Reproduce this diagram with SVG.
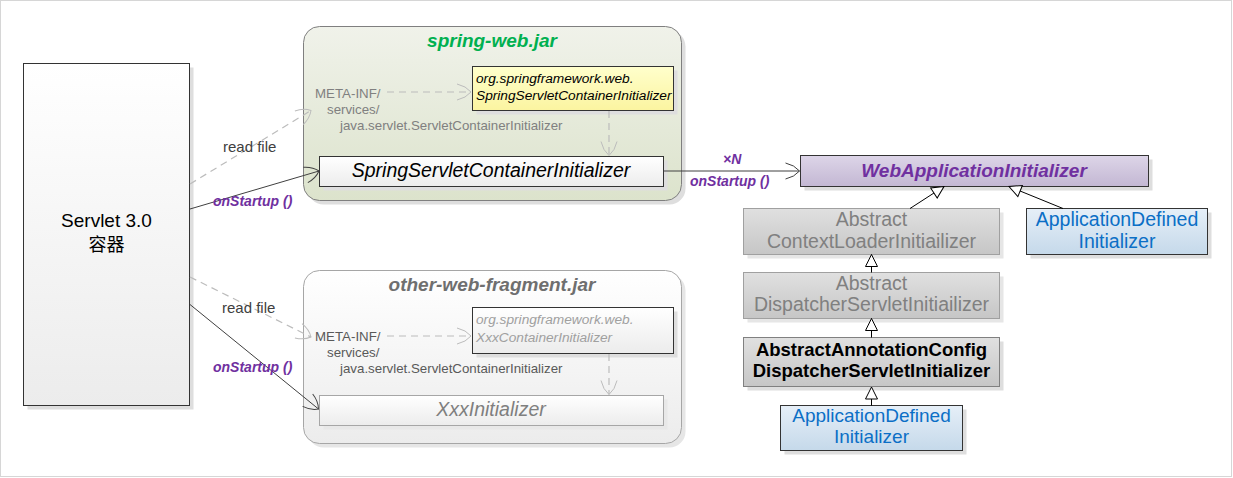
<svg xmlns="http://www.w3.org/2000/svg" width="1233" height="478" viewBox="0 0 1233 478">
<defs>
<linearGradient id="gWhite" x1="0" y1="0" x2="0" y2="1"><stop offset="0" stop-color="#ffffff"/><stop offset="1" stop-color="#ececec"/></linearGradient>
<linearGradient id="gGreen" x1="0" y1="0" x2="0" y2="1"><stop offset="0" stop-color="#f0f2ea"/><stop offset="1" stop-color="#dce3cc"/></linearGradient>
<linearGradient id="gYellow" x1="0" y1="0" x2="0" y2="1"><stop offset="0" stop-color="#ffffcc"/><stop offset="1" stop-color="#fbf4a0"/></linearGradient>
<linearGradient id="gPurple" x1="0" y1="0" x2="0" y2="1"><stop offset="0" stop-color="#ddd5e8"/><stop offset="1" stop-color="#c3b7d3"/></linearGradient>
<linearGradient id="gGray" x1="0" y1="0" x2="0" y2="1"><stop offset="0" stop-color="#e0e0e0"/><stop offset="1" stop-color="#c6c6c6"/></linearGradient>
<linearGradient id="gBlue" x1="0" y1="0" x2="0" y2="1"><stop offset="0" stop-color="#e6eff8"/><stop offset="1" stop-color="#c5d9ea"/></linearGradient>
<marker id="openDark" markerUnits="userSpaceOnUse" markerWidth="20" markerHeight="20" viewBox="-15 -10 17 20" refX="0" refY="0" orient="auto">
<path d="M-14,-8 Q-5,-6 0,0 Q-5,6 -14,8" fill="none" stroke="#404040" stroke-width="1"/>
</marker>
<marker id="openGray" markerUnits="userSpaceOnUse" markerWidth="20" markerHeight="20" viewBox="-15 -10 17 20" refX="0" refY="0" orient="auto">
<path d="M-14,-8 Q-5,-6 0,0 Q-5,6 -14,8" fill="none" stroke="#bcbcbc" stroke-width="1"/>
</marker>
<marker id="tri" markerUnits="userSpaceOnUse" markerWidth="16" markerHeight="16" viewBox="-14 -8 16 16" refX="0" refY="0" orient="auto">
<path d="M0,0 L-12,-6 L-12,6 Z" fill="#ffffff" stroke="#000000" stroke-width="1"/>
</marker>
</defs>
<style>
text{font-family:"Liberation Sans",Arial,"Noto Sans CJK SC",sans-serif;}
.sh{fill:#dedede;}
.box{stroke:#333333;stroke-width:1;}
.lbl{font-size:15px;fill:#404040;}
.call{font-size:14px;font-weight:bold;font-style:italic;fill:#7030a0;}
.meta{font-size:13.3px;fill:#808080;}
.big{font-size:19.5px;text-anchor:middle;}
.dash{fill:none;stroke:#bcbcbc;stroke-width:1.2;stroke-dasharray:7,5;}
.solid{fill:none;stroke:#404040;stroke-width:1;}
.gen{fill:none;stroke:#000000;stroke-width:1;}
</style>
<rect x="0.5" y="0.5" width="1231" height="476" fill="#ffffff" stroke="#d6d6d6"/>

<g id="servlet">
<rect class="sh" x="27.5" y="67.5" width="166" height="342"/>
<rect class="box" x="23.5" y="63.5" width="166" height="342" fill="url(#gWhite)"/>
<text class="big" x="106.5" y="227" style="font-size:19px" fill="#000">Servlet 3.0</text>
<text class="big" x="106.5" y="251" style="font-size:18px;font-family:'Noto Sans CJK SC',sans-serif" fill="#000">容器</text>
</g>

<g id="spring-web-jar">
<rect class="sh" x="307.5" y="30.5" width="378" height="174" rx="16"/>
<rect x="303.5" y="26.5" width="378" height="174" rx="16" fill="url(#gGreen)" stroke="#7f7f7f"/>
<text x="492" y="47" text-anchor="middle" style="font-size:19px;font-weight:bold;font-style:italic" fill="#00b050">spring-web.jar</text>
<text class="meta" x="315" y="98">META-INF/</text>
<text class="meta" x="327" y="114">services/</text>
<text class="meta" x="340" y="130">java.servlet.ServletContainerInitializer</text>
</g>

<g id="spring-sci-file">
<rect class="sh" x="476.5" y="70.5" width="201" height="44"/>
<rect class="box" x="472.5" y="66.5" width="201" height="44" fill="url(#gYellow)"/>
<text x="476" y="83" style="font-size:13.7px;font-style:italic" fill="#000">org.springframework.web.</text>
<text x="476" y="100" style="font-size:13.7px;font-style:italic" fill="#000">SpringServletContainerInitializer</text>
</g>

<g id="spring-sci">
<rect class="sh" x="323.5" y="160.5" width="344" height="30"/>
<rect class="box" x="319.5" y="156.5" width="344" height="30" fill="url(#gWhite)"/>
<text class="big" x="491" y="177" style="font-style:italic" fill="#000">SpringServletContainerInitializer</text>
</g>

<g id="other-web-fragment-jar">
<rect class="sh" x="307.5" y="274.5" width="378" height="173" rx="16" style="fill:#e6e6e6"/>
<rect x="303.5" y="270.5" width="378" height="173" rx="16" fill="url(#gWhite)" stroke="#a6a6a6"/>
<text x="492" y="291" text-anchor="middle" style="font-size:19px;font-weight:bold;font-style:italic" fill="#6f6f6f">other-web-fragment.jar</text>
<text class="meta" x="315" y="341" style="fill:#595959">META-INF/</text>
<text class="meta" x="327" y="357" style="fill:#595959">services/</text>
<text class="meta" x="340" y="373" style="fill:#595959">java.servlet.ServletContainerInitializer</text>
</g>

<g id="xxx-sci-file">
<rect class="sh" x="476.5" y="311.5" width="201" height="46"/>
<rect class="box" x="472.5" y="307.5" width="201" height="46" fill="url(#gWhite)"/>
<text x="476" y="324" style="font-size:13.7px;font-style:italic" fill="#a0a0a0">org.springframework.web.</text>
<text x="476" y="342" style="font-size:13.7px;font-style:italic" fill="#a0a0a0">XxxContainerInitializer</text>
</g>

<g id="xxx-initializer">
<rect class="sh" x="323.5" y="399.5" width="344" height="30" style="fill:#e8e8e8"/>
<rect x="319.5" y="395.5" width="344" height="30" fill="url(#gWhite)" stroke="#a6a6a6"/>
<text class="big" x="491" y="416" style="font-style:italic" fill="#7f7f7f">XxxInitializer</text>
</g>

<g id="web-app-initializer">
<rect class="sh" x="804.5" y="159.5" width="348" height="31"/>
<rect class="box" x="800.5" y="155.5" width="348" height="31" fill="url(#gPurple)"/>
<text x="974" y="177" text-anchor="middle" style="font-size:19px;font-weight:bold;font-style:italic" fill="#7030a0">WebApplicationInitializer</text>
</g>

<g id="abstract-context-loader">
<rect class="sh" x="747.5" y="212.5" width="256" height="46" style="fill:#e6e6e6"/>
<rect x="743.5" y="208.5" width="256" height="46" fill="url(#gGray)" stroke="#a0a0a0"/>
<text class="big" x="871.5" y="225.5" fill="#808080">Abstract</text>
<text class="big" x="871.5" y="247.5" fill="#808080">ContextLoaderInitiailizer</text>
</g>

<g id="app-defined-1">
<rect class="sh" x="1030.5" y="212.5" width="181" height="46"/>
<rect class="box" x="1026.5" y="208.5" width="181" height="46" fill="url(#gBlue)"/>
<text class="big" x="1117" y="225.5" fill="#0b6fc6">ApplicationDefined</text>
<text class="big" x="1117" y="247.5" fill="#0b6fc6">Initializer</text>
</g>

<g id="abstract-dispatcher">
<rect class="sh" x="747.5" y="276.5" width="256" height="46" style="fill:#e6e6e6"/>
<rect x="743.5" y="272.5" width="256" height="46" fill="url(#gGray)" stroke="#a0a0a0"/>
<text class="big" x="871.5" y="289.5" fill="#808080">Abstract</text>
<text class="big" x="871.5" y="311" fill="#808080">DispatcherServletInitiailizer</text>
</g>

<g id="abstract-annotation">
<rect class="sh" x="747.5" y="341.5" width="256" height="49"/>
<rect x="743.5" y="337.5" width="256" height="49" fill="url(#gGray)" stroke="#808080"/>
<text x="871.5" y="355.5" text-anchor="middle" style="font-size:18.5px;font-weight:bold" fill="#000">AbstractAnnotationConfig</text>
<text x="871.5" y="376.5" text-anchor="middle" style="font-size:18.5px;font-weight:bold" fill="#000">DispatcherServletInitializer</text>
</g>

<g id="app-defined-2">
<rect class="sh" x="784.5" y="409.5" width="182" height="45"/>
<rect class="box" x="780.5" y="405.5" width="182" height="45" fill="url(#gBlue)"/>
<text class="big" x="871.5" y="422" style="font-size:19px" fill="#0b6fc6">ApplicationDefined</text>
<text class="big" x="871.5" y="443" style="font-size:19px" fill="#0b6fc6">Initializer</text>
</g>

<g id="connectors">
<line class="dash" x1="190" y1="184" x2="311" y2="110.5" marker-end="url(#openGray)"/>
<line class="solid" x1="190" y1="209" x2="319" y2="171" marker-end="url(#openDark)"/>
<line class="dash" x1="190" y1="277" x2="311" y2="337" marker-end="url(#openGray)"/>
<line class="solid" x1="190" y1="304.5" x2="318.5" y2="409" marker-end="url(#openDark)"/>
<line class="dash" x1="387" y1="92" x2="471" y2="92" marker-end="url(#openGray)"/>
<line class="dash" x1="609" y1="111" x2="609" y2="155.5" marker-end="url(#openGray)"/>
<line class="dash" x1="387" y1="336" x2="471" y2="336" marker-end="url(#openGray)"/>
<line class="dash" x1="609" y1="354" x2="609" y2="394.5" marker-end="url(#openGray)"/>
<line class="solid" x1="663.5" y1="171" x2="799.5" y2="171" marker-end="url(#openDark)"/>
<line class="gen" x1="910" y1="208.5" x2="944" y2="186.5" marker-end="url(#tri)"/>
<line class="gen" x1="1063" y1="208.5" x2="1009" y2="186.5" marker-end="url(#tri)"/>
<line class="gen" x1="871.5" y1="272.5" x2="871.5" y2="254.5" marker-end="url(#tri)"/>
<line class="gen" x1="871.5" y1="337.5" x2="871.5" y2="318.5" marker-end="url(#tri)"/>
<line class="gen" x1="871.5" y1="405.5" x2="871.5" y2="387" marker-end="url(#tri)"/>
<text class="lbl" x="223" y="152">read file</text>
<text class="call" x="213" y="206">onStartup ()</text>
<text class="lbl" x="222" y="313">read file</text>
<text class="call" x="213" y="372">onStartup ()</text>
<text class="call" x="723" y="164">×N</text>
<text class="call" x="690" y="186">onStartup ()</text>
</g>
</svg>
